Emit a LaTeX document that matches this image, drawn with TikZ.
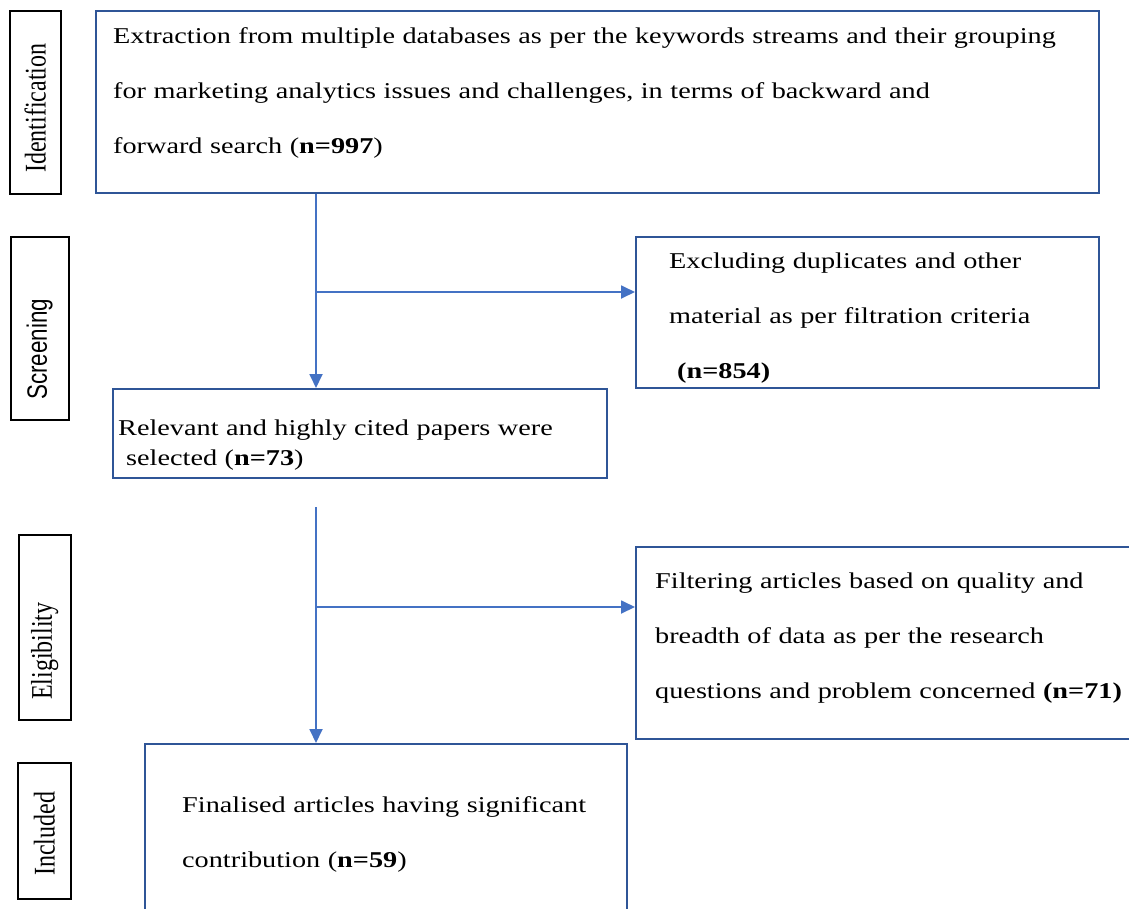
\documentclass[tikz,border=0pt]{standalone}
\usepackage{fontspec}
\setmainfont{Liberation Serif}[FakeStretch=1.25]
\newfontfamily\sidefont{Liberation Serif}[FakeStretch=0.8]
\newfontfamily\sidesans{Liberation Sans}[FakeStretch=0.8]
\usetikzlibrary{arrows.meta,positioning,calc}
\definecolor{flowBlue}{RGB}{47,85,151}
\definecolor{flowArrow}{RGB}{68,114,196}

\begin{document}
\begin{tikzpicture}[x=1pt,y=-1pt,
  stagebox/.style={draw=black, line width=1.5pt, anchor=north west, inner sep=0pt},
  stagetxt/.style={rotate=90, inner sep=0pt, font=\sidefont\fontsize{30}{30}\selectfont},
  flowbox/.style={draw=flowBlue, line width=1.6pt, anchor=north west, inner sep=0pt},
  flowtxt/.style={anchor=base west, inner sep=0pt, align=left, text width=1000pt, font=\fontsize{22.6}{55}\selectfont},
  arr/.style={flowArrow, line width=1.8pt, -{Triangle[length=14pt,width=13pt]}}]
\useasboundingbox (0,0) rectangle (1129,908);
\clip (0,0) rectangle (1129,908);

% stage labels
\node[stagebox, minimum width=51pt, minimum height=183pt] (identbox) at (9,10) {};
\node[stagetxt] (identlbl) at ([yshift=-6pt]identbox.center) {Identification};
\node[stagebox, minimum width=58pt, minimum height=183pt] (screenbox) at (10,236) {};
\node[stagetxt, font=\sidesans\fontsize{28}{28}\selectfont] (screenlbl) at ([yshift=-21pt]screenbox.center) {Screening};
\node[stagebox, minimum width=52pt, minimum height=185pt] (eligbox) at (18,534) {};
\node[stagetxt] (eliglbl) at ([yshift=-24pt]eligbox.center) {Eligibility};
\node[stagebox, minimum width=53pt, minimum height=136pt] (inclbox) at (17,762) {};
\node[stagetxt] (incllbl) at ([yshift=-3pt]inclbox.center) {Included};

% flow boxes
\node[flowbox, minimum width=1003pt, minimum height=182pt] (search) at (95,10) {};
\node[flowtxt] (searchtxt) at (113,43) {Extraction from multiple databases as per the keywords streams and their grouping\\for marketing analytics issues and challenges, in terms of backward and\\forward search (\textbf{n=997})};
\node[flowbox, minimum width=463pt, minimum height=151pt] (dup) at (635,236) {};
\node[flowtxt] (duptxt) at (669,268) {Excluding duplicates and other\\material as per filtration criteria\\\hspace*{8pt}\textbf{(n=854)}};
\node[flowbox, minimum width=494pt, minimum height=89pt] (rel) at (112,388) {};
\node[flowtxt, font=\fontsize{22.6}{30}\selectfont] (reltxt) at (118,435) {Relevant and highly cited papers were\\\hspace*{8pt}selected (\textbf{n=73})};
\node[flowbox, minimum width=520pt, minimum height=192pt] (filt) at (635,546) {};
\node[flowtxt] (filttxt) at (655,588) {Filtering articles based on quality and\\breadth of data as per the research\\questions and problem concerned \textbf{(n=71)}};
\node[flowbox, minimum width=482pt, minimum height=200pt] (final) at (144,743) {};
\node[flowtxt] (finaltxt) at (182,812) {Finalised articles having significant\\contribution (\textbf{n=59})};

% connectors
\coordinate (split1) at (316,292);
\coordinate (start2) at (316,507);
\coordinate (split2) at (316,607);
\draw[arr] (search.south -| split1) -- (rel.north -| split1);
\draw[arr] (split1) -- (split1 -| dup.west);
\draw[arr] (start2) -- (start2 |- final.north);
\draw[arr] (split2) -- (split2 -| filt.west);
\end{tikzpicture}
\end{document}
